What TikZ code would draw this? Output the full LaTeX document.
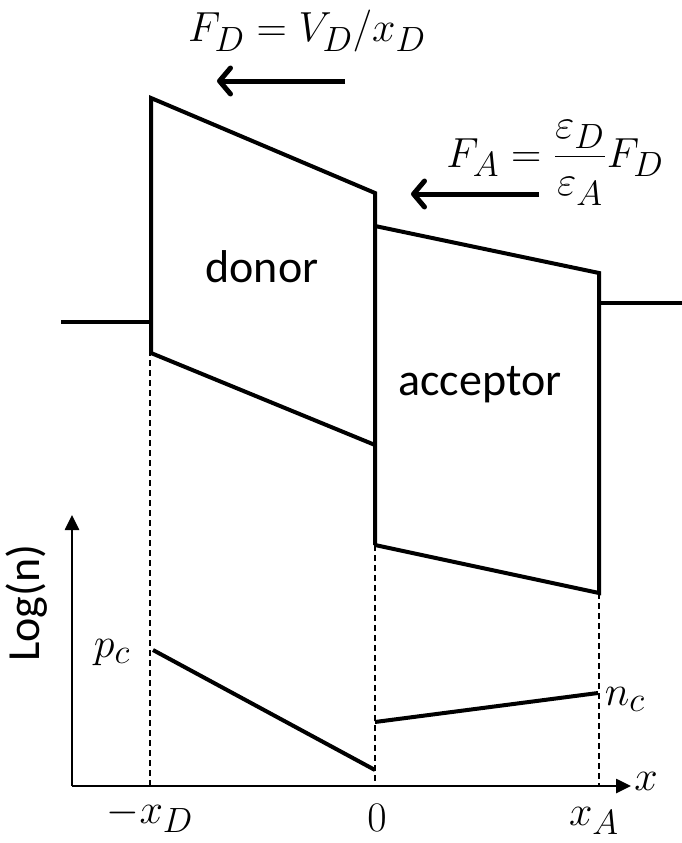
\documentclass[tikz,border=0pt]{standalone}
\usepackage{fontspec}
\setmainfont{Carlito}
\usetikzlibrary{arrows.meta}
\tikzset{
  band/.style={line width=4pt},
  axisline/.style={line width=2.6pt,-{Triangle[length=15pt,width=14pt]}},
  guide/.style={line width=1.4pt,dash pattern=on 6pt off 4pt},
  field/.style={line width=5pt,-{Straight Barb[length=11pt,width=26pt,line cap=round,line join=round]}},
  lbl/.style={font=\fontsize{46}{50}\selectfont,inner sep=0pt},
  mth/.style={font=\Huge,scale=1.69,inner sep=0pt}
}
\begin{document}
\begin{tikzpicture}[x=1pt,y=-1pt]
\useasboundingbox (0,0) rectangle (682,843);
% corners
\coordinate (L0) at (61,322);
\coordinate (L1) at (151,322);
\coordinate (DTL) at (151,98);
\coordinate (DBL) at (151,353);
\coordinate (DTR) at (375,193);
\coordinate (DBR) at (375,445);
\coordinate (ATL) at (375,226);
\coordinate (ABL) at (375,545);
\coordinate (ATR) at (599,273);
\coordinate (ABR) at (599,593);
\coordinate (R0) at (599,303);
\coordinate (R1) at (682,303);
% axes
\coordinate (O) at (72,786);
\coordinate (Ytop) at (72,515);
\coordinate (Xend) at (631,786);
\coordinate (gD0) at (150,290);
\coordinate (gD1) at (150,786);
\coordinate (g01) at (375,786);
\coordinate (gA1) at (599,786);
% carrier lines
\coordinate (P0) at (153,650);
\coordinate (P1) at (375,770);
\coordinate (N0) at (375,722);
\coordinate (N1) at (598,693);
% fields
\coordinate (FDt) at (345,81);
\coordinate (FDh) at (217,81);
\coordinate (FAt) at (539,194);
\coordinate (FAh) at (411,194);

% guides
\draw[guide] (gD0) -- (gD1);
\draw[guide] (ABL) -- (g01);
\draw[guide] (ABR) -- (gA1);

% band diagram
\draw[band] (L0) -- (L1);
\draw[band] (DBL) -- (DTL) -- (DTR) -- (ABL);
\draw[band] (DBL) -- (DBR);
\draw[band] (ATL) -- (ATR) -- (ABR) -- (ABL);
\draw[band] (R0) -- (R1);

% axes
\draw[axisline] (O) -- (Ytop);
\draw[axisline] (O) -- (Xend);

% carriers
\draw[band] (P0) -- (P1);
\draw[band] (N0) -- (N1);

% field arrows
\draw[field] (FDt) -- (FDh);
\draw[field] (FAt) -- (FAh);

% texts
\node[lbl,anchor=base] (donor) at (262,282) {donor};
\node[lbl,anchor=base] (acc) at (480,395) {acceptor};
\node[lbl,rotate=90] (logn) at (27,603) {Log(n)};
\node[mth,anchor=base] (fd) at (307,42) {$F_D=V_D/x_D$};
\node[mth,anchor=base] (fa) at (555,167) {$\displaystyle F_A=\frac{\varepsilon_D}{\varepsilon_A}F_D$};
\node[mth,anchor=base] (pc) at (112,657) {$p_c$};
\node[mth,anchor=base] (nc) at (625,705) {$n_c$};
\node[mth,anchor=base] (xd) at (150,823) {$-x_D$};
\node[mth,anchor=base] (zero) at (377,831) {$0$};
\node[mth,anchor=base] (xa) at (594,825) {$x_A$};
\node[mth,anchor=base] (xl) at (646,790) {$x$};
\end{tikzpicture}
\end{document}
